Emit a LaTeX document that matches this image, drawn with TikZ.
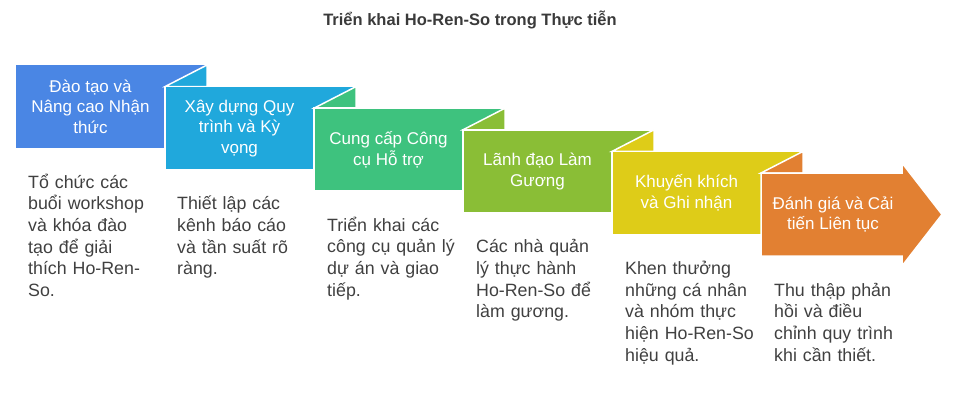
\documentclass[tikz,border=0pt]{standalone}
\usepackage{fontspec}
\setmainfont{Liberation Sans}
\usepackage{tikz}
\usetikzlibrary{positioning}
\definecolor{ctrain}{RGB}{74,134,228}
\definecolor{cproc}{RGB}{32,168,220}
\definecolor{ctool}{RGB}{62,194,126}
\definecolor{clead}{RGB}{138,190,54}
\definecolor{creward}{RGB}{222,204,24}
\definecolor{creview}{RGB}{226,128,50}
\definecolor{textgray}{RGB}{64,64,64}
\definecolor{titlegray}{RGB}{58,58,58}
\tikzstyle{stage}=[draw=white,line width=1.5pt]
\tikzstyle{stagetext}=[text=white,align=center,inner sep=0pt,font=\fontsize{17}{20.5}\selectfont]
\tikzstyle{desc}=[anchor=base west,text width=150pt,align=left,inner sep=0pt,text=textgray,font=\fontsize{17.8}{21.7}\selectfont]

\begin{document}
\begin{tikzpicture}[x=1pt,y=-1pt]
  \useasboundingbox (0,0) rectangle (960,404);
  \node[text=titlegray, font=\fontsize{16.5}{20}\selectfont\bfseries] (title) at (470,20) {Triển khai Ho-Ren-So trong Thực tiễn};
  % bands
  \fill[ctrain] (16,65) rectangle (207,148);
  \filldraw[stage, fill=cproc] (165,86.6) -- (207,65) -- (207,86.6) -- cycle;
  \filldraw[stage, fill=cproc] (165,86.6) rectangle (356,169.6);
  \filldraw[stage, fill=ctool] (314,108.2) -- (356,86.6) -- (356,108.2) -- cycle;
  \filldraw[stage, fill=ctool] (314,108.2) rectangle (505,191.2);
  \filldraw[stage, fill=clead] (463,129.8) -- (505,108.2) -- (505,129.8) -- cycle;
  \filldraw[stage, fill=clead] (463,129.8) rectangle (654,212.8);
  \filldraw[stage, fill=creward] (612,151.4) -- (654,129.8) -- (654,151.4) -- cycle;
  \filldraw[stage, fill=creward] (612,151.4) rectangle (803,234.4);
  \filldraw[stage, fill=creview] (761,173) -- (803,151.4) -- (803,173) -- cycle;
  \filldraw[stage, fill=creview] (761,173) -- (902,173) -- (902,163) -- (942,214.5)
    -- (902,266) -- (902,256) -- (761,256) -- cycle;
  % labels
  \node[stagetext] (train) at (90.5,106.5) {Đào tạo và\\Nâng cao Nhận\\thức};
  \node[stagetext] (proc) at (239.5,128.1) {Xây dựng Quy\\trình và Kỳ\\vọng};
  \node[stagetext] (tool) at (388.5,149.7) {Cung cấp Công\\cụ Hỗ trợ};
  \node[stagetext] (lead) at (537.5,171.3) {Lãnh đạo Làm\\Gương};
  \node[stagetext] (reward) at (686.5,192.9) {Khuyến khích\\và Ghi nhận};
  \node[stagetext] (review) at (833,214.5) {Đánh giá và Cải\\tiến Liên tục};
  % descriptions
  \node[desc] (traindesc) at (28,188) {Tổ chức các\\buổi workshop\\và khóa đào\\tạo để giải\\thích Ho-Ren-\\So.};
  \node[desc] (procdesc) at (177,209.6) {Thiết lập các\\kênh báo cáo\\và tần suất rõ\\ràng.};
  \node[desc] (tooldesc) at (327,231.2) {Triển khai các\\công cụ quản lý\\dự án và giao\\tiếp.};
  \node[desc] (leaddesc) at (476,252.8) {Các nhà quản\\lý thực hành\\Ho-Ren-So để\\làm gương.};
  \node[desc] (rewarddesc) at (625,274.4) {Khen thưởng\\những cá nhân\\và nhóm thực\\hiện Ho-Ren-So\\hiệu quả.};
  \node[desc] (reviewdesc) at (774,296) {Thu thập phản\\hồi và điều\\chỉnh quy trình\\khi cần thiết.};
\end{tikzpicture}
\end{document}
